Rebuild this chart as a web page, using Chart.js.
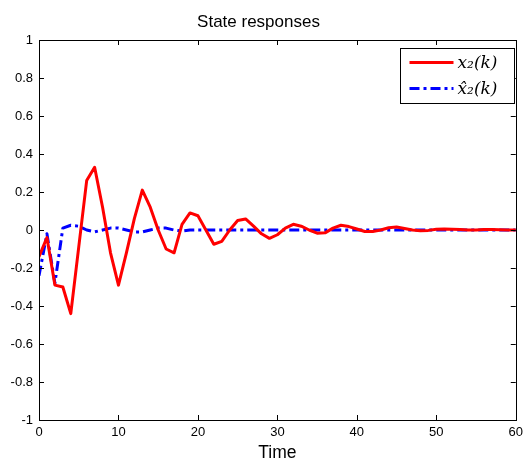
<!DOCTYPE html>
<html>
<head>
<meta charset="utf-8">
<script src="https://cdn.jsdelivr.net/npm/chart.js@4.4.0/dist/chart.umd.min.js"></script>
<style>
    html, body { margin: 0; padding: 0; background: #fff; }
    #wrap { width: 528px; height: 460px; }
</style>
</head>
<body>
<div id="wrap"><canvas id="myChart1" width="528" height="460"></canvas></div>
<script>
    // time steps k = 0..60
    var steps = []
    for (var i = 0; i <= 60; i++) steps.push(i)

    // x2(k)
    var stateX2 = [
        -0.14, -0.04, -0.29, -0.30, -0.44, -0.09, 0.26, 0.33, 0.12, -0.12,
        -0.29, -0.12, 0.06, 0.21, 0.12, 0.0, -0.10, -0.12, 0.03, 0.09,
        0.075, 0.0, -0.075, -0.06, 0.0, 0.05, 0.058, 0.02, -0.02, -0.044,
        -0.025, 0.01, 0.03, 0.02, 0.0, -0.017, -0.015, 0.01, 0.025, 0.018,
        0.005, -0.008, -0.008, 0.0, 0.012, 0.016, 0.008, 0.0, -0.004, -0.002,
        0.004, 0.005, 0.004, 0.002, 0.0, 0.0, 0.002, 0.002, 0.001, 0.0,
        0.0
    ]

    // estimate x2hat(k)
    var estimateX2 = [
        -0.24, -0.02, -0.28, 0.01, 0.025, 0.02, 0.0, -0.01, 0.0, 0.01,
        0.01, 0.0, -0.01, -0.01, 0.0, 0.01, 0.01, 0.0, -0.005, 0.0,
        0.0, 0.0, 0.0, 0.0, 0.0, 0.0, 0.0, 0.0, 0.0, 0.0,
        0.0, 0.0, 0.0, 0.0, 0.0, 0.0, 0.0, 0.0, 0.0, 0.0,
        0.0, 0.0, 0.0, 0.0, 0.0, 0.0, 0.0, 0.0, 0.0, 0.0,
        0.0, 0.0, 0.0, 0.0, 0.0, 0.0, 0.0, 0.0, 0.0, 0.0,
        0.0
    ]

    var xTicks = [0, 10, 20, 30, 40, 50, 60]
    var yTicks = [-1, -0.8, -0.6, -0.4, -0.2, 0, 0.2, 0.4, 0.6, 0.8, 1]
    var legendLabels = ['x\u2082(k)', 'x\u0302\u2082(k)']

    function toPoints(ys) {
        return steps.map(function(k, i) { return { x: k, y: ys[i] } })
    }

    // matlab style box: frame on all sides, ticks pointing inward, legend inside
    var boxPlugin = {
        id: 'box',
        afterDraw: function(chart) {
            var ctx = chart.ctx
            var a = chart.chartArea
            var xs = chart.scales.x
            var ys = chart.scales.y
            ctx.save()
            ctx.strokeStyle = '#000'
            ctx.lineWidth = 1
            ctx.strokeRect(Math.round(a.left) + 0.5, Math.round(a.top) + 0.5,
                Math.round(a.right - a.left), Math.round(a.bottom - a.top))
            ctx.beginPath()
            xTicks.forEach(function(v) {
                var px = Math.round(xs.getPixelForValue(v)) + 0.5
                ctx.moveTo(px, a.bottom); ctx.lineTo(px, a.bottom - 5)
                ctx.moveTo(px, a.top); ctx.lineTo(px, a.top + 5)
            })
            yTicks.forEach(function(v) {
                var py = Math.round(ys.getPixelForValue(v)) + 0.5
                ctx.moveTo(a.left, py); ctx.lineTo(a.left + 5, py)
                ctx.moveTo(a.right, py); ctx.lineTo(a.right - 5, py)
            })
            ctx.stroke()

            // legend
            var lx = Math.round(a.right) - 116 + 0.5
            var ly = Math.round(a.top) + 8 + 0.5
            ctx.fillStyle = '#fff'
            ctx.fillRect(lx, ly, 114, 55)
            ctx.strokeRect(lx, ly, 114, 55)
            var sets = chart.data.datasets
            for (var i = 0; i < sets.length; i++) {
                var yy = ly + 14 + i * 26
                ctx.beginPath()
                ctx.strokeStyle = sets[i].borderColor
                ctx.lineWidth = 3
                ctx.setLineDash(sets[i].borderDash || [])
                ctx.moveTo(lx + 9, yy); ctx.lineTo(lx + 53, yy)
                ctx.stroke()
                ctx.setLineDash([])
                ctx.fillStyle = '#000'
                ctx.font = 'italic 17px "DejaVu Serif"'
                ctx.textBaseline = 'middle'
                ctx.textAlign = 'left'
                ctx.fillText(legendLabels[i], lx + 57, yy + 1)
            }
            ctx.restore()
        }
    }

    var ctx = document.getElementById('myChart1').getContext('2d');
    var myChart = new Chart(ctx, {
        type: 'line',
        data: {
            datasets: [{
                label: legendLabels[0],
                data: toPoints(stateX2),
                borderColor: 'rgb(255,0,0)',
                borderWidth: 3,
                borderJoinStyle: 'round',
                borderCapStyle: 'round',
                pointRadius: 0,
                tension: 0,
                fill: false
            }, {
                label: legendLabels[1],
                data: toPoints(estimateX2),
                borderColor: 'rgb(0,0,255)',
                borderWidth: 3,
                borderDash: [10, 4, 3, 4],
                borderJoinStyle: 'round',
                pointRadius: 0,
                tension: 0,
                fill: false
            }]
        },
        options: {
            responsive: false,
            animation: false,
            layout: {
                padding: { left: 0, right: 11, top: 0, bottom: 0 }
            },
            plugins: {
                legend: { display: false },
                tooltip: { enabled: false },
                title: {
                    display: true,
                    text: 'State responses',
                    color: '#000',
                    font: { family: 'Liberation Sans', size: 17, weight: 'normal' },
                    padding: { top: 12, bottom: 7.6 }
                }
            },
            scales: {
                x: {
                    type: 'linear',
                    min: 0,
                    max: 60,
                    afterFit: function(scale) { scale.height = 40 },
                    afterBuildTicks: function(scale) {
                        scale.ticks = xTicks.map(function(v) { return { value: v } })
                    },
                    grid: { display: false, drawTicks: false },
                    border: { display: false },
                    ticks: {
                        color: '#000',
                        padding: 5,
                        maxRotation: 0,
                        font: { family: 'Liberation Sans', size: 13 }
                    },
                    title: {
                        display: true,
                        text: 'Time',
                        color: '#000',
                        font: { family: 'Liberation Sans', size: 17.5 },
                        padding: { top: 5, bottom: -4 }
                    }
                },
                y: {
                    min: -1,
                    max: 1,
                    afterFit: function(scale) { scale.width = 39 },
                    afterBuildTicks: function(scale) {
                        scale.ticks = yTicks.map(function(v) { return { value: v } })
                    },
                    grid: { display: false, drawTicks: false },
                    border: { display: false },
                    ticks: {
                        color: '#000',
                        padding: 6,
                        font: { family: 'Liberation Sans', size: 13 },
                        callback: function(v) { return String(Math.round(v * 10) / 10) }
                    }
                }
            }
        },
        plugins: [boxPlugin]
    });
</script>
</body>
</html>
